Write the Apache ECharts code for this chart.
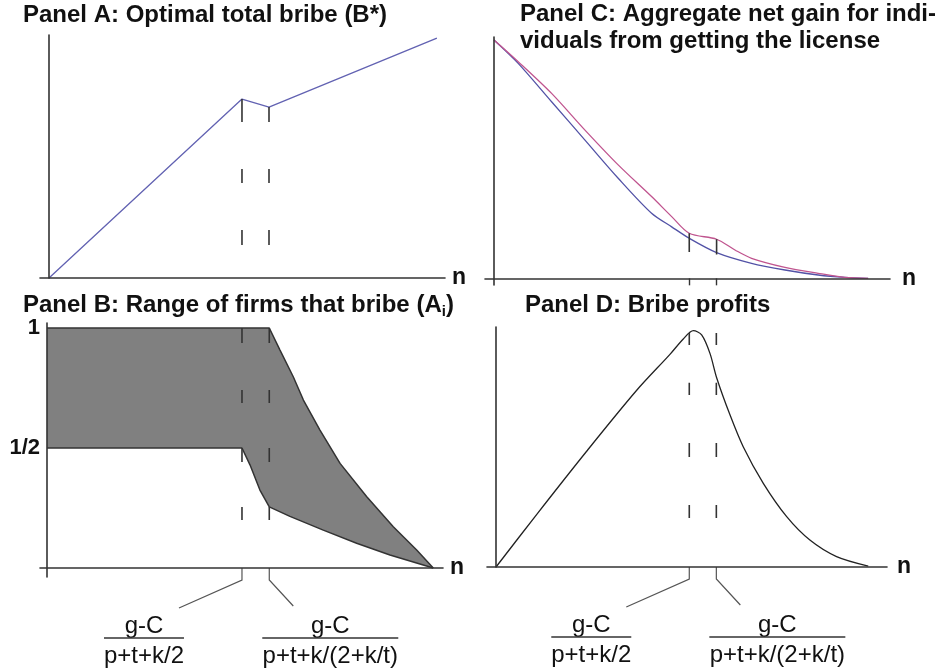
<!DOCTYPE html>
<html lang="en">
<head>
<meta charset="UTF-8">
<title>Bribe panels</title>
<script src="https://cdn.jsdelivr.net/npm/echarts@6/dist/echarts.min.js"></script>
<style>
  html, body { margin: 0; background: #fff; }
  #main { width: 945px; height: 671px; }
</style>
</head>
<body>
<div id="main"></div>
<script>
// n is scaled so that the first threshold (g-C)/(p+t+k/2) sits at 1
var n1 = 1, n2 = 1.14;

// Panel A: optimal total bribe B*
var bribeN = [0, 1, 1.14, 2.01];
var bribeB = [0, 1, 0.955, 1.341];
var aDash1 = [[1.0, 0.872], [0.609, 0.531], [0.268, 0.184]];
var aDash2 = [[0.955, 0.872], [0.609, 0.531], [0.268, 0.184]];

// Panel B: range of firms that bribe (upper and lower bound of A_i)
var upperN = [0, 1.14, 1.195, 1.263, 1.315, 1.4, 1.503, 1.64, 1.776, 1.896, 1.981];
var upperA = [1, 1, 0.908, 0.797, 0.70, 0.575, 0.436, 0.297, 0.172, 0.075, 0];
var lowerN = [0, 1, 1.041, 1.092, 1.14, 1.246, 1.417, 1.588, 1.759, 1.981];
var lowerA = [0.5, 0.5, 0.43, 0.325, 0.255, 0.215, 0.158, 0.103, 0.054, 0];
var bDash = [[1.0, 0.9375], [0.742, 0.6875], [0.5, 0.442], [0.254, 0.2]];

// Panel C: aggregate net gain (two curves)
var blueN = [0, 0.124, 0.295, 0.466, 0.636, 0.807, 0.91, 1.0, 1.14, 1.319, 1.49, 1.66, 1.797, 1.916];
var blueG = [1.0, 0.902, 0.741, 0.58, 0.42, 0.273, 0.216, 0.168, 0.108, 0.063, 0.035, 0.014, 0.004, 0];
var pinkN = [0, 0.124, 0.295, 0.466, 0.636, 0.807, 0.91, 1.0, 1.14, 1.234, 1.319, 1.49, 1.66, 1.797, 1.916];
var pinkG = [1.0, 0.909, 0.776, 0.622, 0.476, 0.343, 0.259, 0.189, 0.164, 0.119, 0.084, 0.046, 0.021, 0.004, 0];
var cTick1 = [[0.189, 0.11]];
var cTick2 = [[0.164, 0.10]];

// Panel D: bribe profits
var profitN = [0, 0.21, 0.469, 0.728, 0.9, 0.969, 1.021, 1.064, 1.107, 1.142, 1.21, 1.279, 1.383, 1.504, 1.624, 1.762, 1.926];
var profitP = [0, 0.222, 0.49, 0.748, 0.9, 0.965, 1.0, 0.982, 0.904, 0.8, 0.645, 0.509, 0.354, 0.213, 0.114, 0.044, 0.004];
var dDash = [[0.99, 0.94], [0.78, 0.728], [0.525, 0.466], [0.262, 0.207]];

var FONT = '"Liberation Sans", Arial, sans-serif';
var INK = '#333';

function zip(xs, ys) {
  return xs.map(function (x, i) { return [x, ys[i]]; });
}

// vertical dash pieces at one n value, broken by empty points
function dashData(x, ranges) {
  var out = [];
  ranges.forEach(function (r) {
    out.push([x, r[0]], [x, r[1]], [x, null]);
  });
  return out;
}

function dashSeries(idx, data) {
  return {
    type: 'line', xAxisIndex: idx, yAxisIndex: idx, z: 5,
    data: data, symbol: 'none', connectNulls: false, silent: true,
    lineStyle: { color: INK, width: 1.6 }
  };
}

function xAx(idx, min, max, gap, ticks) {
  return {
    type: 'value', gridIndex: idx, min: min, max: max, z: 10,
    axisLine: { onZero: true, lineStyle: { color: INK, width: 1.6 } },
    axisTick: ticks ? { show: true, customValues: ticks, length: 7, lineStyle: { color: INK, width: 1.4 } } : { show: false },
    axisLabel: { show: false },
    splitLine: { show: false },
    name: 'n', nameLocation: 'end', nameGap: gap,
    nameTextStyle: { fontFamily: FONT, fontSize: 23, fontWeight: 'bold', color: '#111', verticalAlign: 'middle', padding: [0, 0, 6, 0] }
  };
}

function yAx(idx, min, max, labels) {
  return {
    type: 'value', gridIndex: idx, min: min, max: max, z: 10,
    axisLine: { onZero: true, lineStyle: { color: INK, width: 1.6 } },
    axisTick: { show: false },
    axisLabel: labels || { show: false },
    splitLine: { show: false }
  };
}

function titleAt(left, top, text, rich) {
  return {
    text: text, left: left, top: top, padding: 0,
    textStyle: { fontFamily: FONT, fontSize: 24, fontWeight: 'bold', color: '#111', lineHeight: 27, rich: rich }
  };
}

var chart = echarts.init(document.getElementById('main'));

var option = {
  animation: false,
  backgroundColor: '#fff',
  title: [
    titleAt(23, 2, 'Panel A: Optimal total bribe (B*)'),
    titleAt(23, 292, 'Panel B: Range of firms that bribe (A{sub|i})', {
      sub: { fontFamily: FONT, fontSize: 15, fontWeight: 'bold', color: '#111', padding: [12, 0, 0, 0] }
    }),
    titleAt(520, 1, 'Panel C: Aggregate net gain for indi-\nviduals from getting the license'),
    titleAt(525, 292, 'Panel D: Bribe profits')
  ],
  grid: [
    { left: 40, top: 35, width: 405, height: 243 },
    { left: 40, top: 323, width: 403, height: 254 },
    { left: 485, top: 37, width: 405, height: 248 },
    { left: 487, top: 327, width: 400, height: 240 }
  ],
  xAxis: [
    xAx(0, -0.0466, 2.052, 7),
    xAx(1, -0.0359, 2.031, 7),
    xAx(2, -0.046, 2.028, 12, [n1, n2]),
    xAx(3, -0.0466, 2.023, 10)
  ],
  yAxis: [
    yAx(0, 0, 1.358),
    yAx(1, -0.0375, 1.021, {
      show: true, customValues: [0.5, 1], margin: 0,
      fontFamily: FONT, fontSize: 22, fontWeight: 'bold', color: '#111',
      formatter: function (v) { return v === 1 ? '1' : '1/2'; }
    }),
    yAx(2, -0.028, 1.0126),
    yAx(3, 0, 1.0157)
  ],
  series: [
    // Panel A
    {
      type: 'line', xAxisIndex: 0, yAxisIndex: 0, data: zip(bribeN, bribeB),
      symbol: 'none', lineStyle: { color: '#6262b2', width: 1.3 }
    },
    dashSeries(0, dashData(n1, aDash1).concat(dashData(n2, aDash2))),

    // Panel B: gray band = upper area minus white lower area
    {
      type: 'line', xAxisIndex: 1, yAxisIndex: 1, z: 2, data: zip(upperN, upperA),
      symbol: 'none', lineStyle: { color: INK, width: 1.5 },
      areaStyle: { color: '#808080', opacity: 1 }
    },
    {
      type: 'line', xAxisIndex: 1, yAxisIndex: 1, z: 3, data: zip(lowerN, lowerA),
      symbol: 'none', lineStyle: { color: INK, width: 1.5 },
      areaStyle: { color: '#ffffff', opacity: 1 }
    },
    dashSeries(1, dashData(n1, bDash).concat(dashData(n2, bDash))),

    // Panel C
    {
      type: 'line', xAxisIndex: 2, yAxisIndex: 2, data: zip(blueN, blueG), smooth: 0.3,
      symbol: 'none', lineStyle: { color: '#5252a6', width: 1.3 }
    },
    {
      type: 'line', xAxisIndex: 2, yAxisIndex: 2, data: zip(pinkN, pinkG), smooth: 0.3,
      symbol: 'none', lineStyle: { color: '#c0558f', width: 1.3 }
    },
    dashSeries(2, dashData(n1, cTick1).concat(dashData(n2, cTick2))),

    // Panel D
    {
      type: 'line', xAxisIndex: 3, yAxisIndex: 3, data: zip(profitN, profitP), smooth: 0.3,
      symbol: 'none', lineStyle: { color: '#222', width: 1.3 }
    },
    dashSeries(3, dashData(n1, dDash).concat(dashData(n2, dDash)))
  ]
};

chart.setOption(option);

// leader lines from the two thresholds to the fraction labels under panels B and D
function thresholdNotes(grid) {
  var p1 = chart.convertToPixel({ gridIndex: grid }, [n1, 0]);
  var p2 = chart.convertToPixel({ gridIndex: grid }, [n2, 0]);
  var y0 = p1[1];
  var lineStyle = { stroke: '#555', lineWidth: 1.2, fill: null };
  var els = [
    { type: 'polyline', shape: { points: [[p1[0], y0], [p1[0], y0 + 12], [p1[0] - 63, y0 + 40]] }, style: lineStyle },
    { type: 'polyline', shape: { points: [[p2[0], y0], [p2[0], y0 + 12], [p2[0] + 24, y0 + 38]] }, style: lineStyle }
  ];
  [[p1[0] - 98, 80, 'p+t+k/2'], [p2[0] + 61, 136, 'p+t+k/(2+k/t)']].forEach(function (f) {
    var cx = f[0], w = f[1];
    els.push(
      { type: 'text', x: cx, y: y0 + 58, style: { text: 'g-C', fontFamily: FONT, fontSize: 24, fill: '#111', align: 'center', verticalAlign: 'middle' } },
      { type: 'line', shape: { x1: cx - w / 2, y1: y0 + 70, x2: cx + w / 2, y2: y0 + 70 }, style: { stroke: INK, lineWidth: 1.5 } },
      { type: 'text', x: cx, y: y0 + 88, style: { text: f[2], fontFamily: FONT, fontSize: 24, fill: '#111', align: 'center', verticalAlign: 'middle' } }
    );
  });
  return els;
}

chart.setOption({ graphic: thresholdNotes(1).concat(thresholdNotes(3)) });
</script>
</body>
</html>
